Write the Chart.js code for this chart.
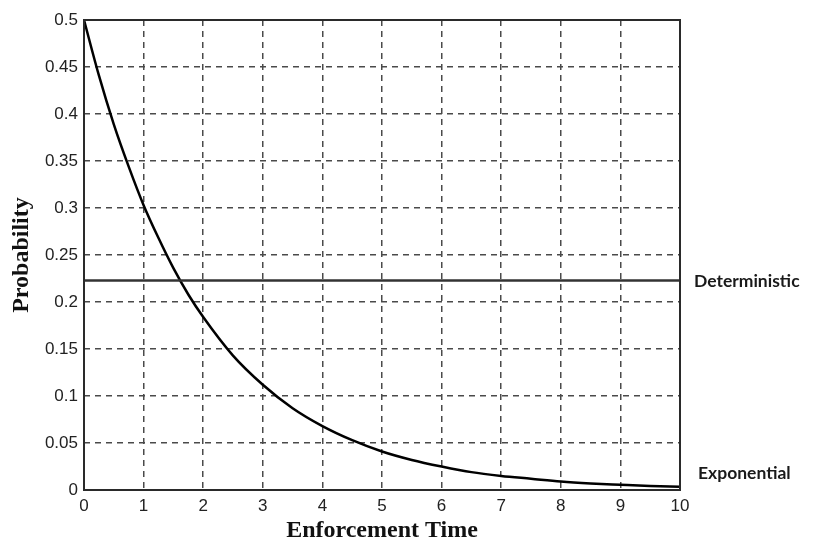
<!DOCTYPE html>
<html>
<head>
<meta charset="utf-8">
<script src="https://cdn.jsdelivr.net/npm/chart.js@4"></script>
<style>
  html, body { margin: 0; padding: 0; background: #fff; }
  #wrap { width: 816px; height: 545px; position: relative; }
</style>
</head>
<body>
<div id="wrap"><canvas id="c" width="816" height="545"></canvas></div>
<script>
// Enforcement time (x) and the probability of the exponential model at each time
const times = [0, 0.25, 0.5, 0.75, 1, 1.25, 1.5, 1.75, 2, 2.5, 3, 3.5, 4, 4.5, 5, 5.5, 6, 6.5, 7, 7.5, 8, 8.5, 9, 9.5, 10];
const exponentialProb = [0.5, 0.441, 0.389, 0.344, 0.303, 0.268, 0.236, 0.208, 0.184, 0.143, 0.112, 0.087, 0.068, 0.053, 0.041, 0.032, 0.025, 0.019, 0.015, 0.012, 0.009, 0.007, 0.0056, 0.0043, 0.0034];
// Constant probability of the deterministic model
const deterministicProb = 0.223;
const xTicks = [0, 1, 2, 3, 4, 5, 6, 7, 8, 9, 10];
const yTicks = [0, 0.05, 0.1, 0.15, 0.2, 0.25, 0.3, 0.35, 0.4, 0.45, 0.5];
const seriesNames = ['Deterministic', 'Exponential'];

const expPoints = times.map((t, i) => ({ x: t, y: exponentialProb[i] }));
const detPoints = [{ x: xTicks[0], y: deterministicProb }, { x: xTicks[xTicks.length - 1], y: deterministicProb }];

// Box around the plot area and series names at the right edge
const frameAndNames = {
  id: 'frameAndNames',
  afterDatasetsDraw(chart) {
    const { ctx, chartArea: a, scales } = chart;
    ctx.save();
    ctx.strokeStyle = '#2a2a2a';
    ctx.lineWidth = 2;
    ctx.strokeRect(a.left, a.top, a.right - a.left, a.bottom - a.top);
    ctx.fillStyle = '#1a1a1a';
    ctx.font = 'bold 17.5px Lato, "Open Sans", sans-serif';
    ctx.textBaseline = 'middle';
    ctx.textAlign = 'left';
    ctx.fillText(seriesNames[0], a.right + 14, scales.y.getPixelForValue(deterministicProb) + 1);
    const lastY = scales.y.getPixelForValue(exponentialProb[exponentialProb.length - 1]);
    ctx.fillText(seriesNames[1], a.right + 18, lastY - 13);
    ctx.restore();
  }
};

const gridStyle = {
  color: '#4a4a4a',
  lineWidth: 1.5,
  drawTicks: false,
  tickLength: 0
};

const tickFont = { family: '"Liberation Sans", Arial, sans-serif', size: 17 };
const titleFont = { family: '"Liberation Serif", "Times New Roman", serif', size: 24, weight: 'bold' };

new Chart(document.getElementById('c'), {
  type: 'scatter',
  data: {
    datasets: [
      {
        label: seriesNames[0],
        data: detPoints,
        showLine: true,
        borderColor: '#333',
        borderWidth: 2.5,
        pointRadius: 0
      },
      {
        label: seriesNames[1],
        data: expPoints,
        showLine: true,
        borderColor: '#000',
        borderWidth: 2.5,
        pointRadius: 0,
        cubicInterpolationMode: 'monotone'
      }
    ]
  },
  options: {
    responsive: false,
    animation: false,
    layout: { padding: { left: 0, right: 136, top: 20, bottom: 0 } },
    plugins: { legend: { display: false }, tooltip: { enabled: false } },
    scales: {
      x: {
        type: 'linear',
        min: xTicks[0],
        max: xTicks[xTicks.length - 1],
        afterBuildTicks(scale) { scale.ticks = xTicks.map(v => ({ value: v })); },
        afterFit(scale) { scale.height = 55; },
        grid: gridStyle,
        border: { display: false, dash: [6, 5] },
        ticks: {
          color: '#222',
          padding: 6,
          font: tickFont,
          callback: v => String(v)
        },
        title: {
          display: true,
          text: 'Enforcement Time',
          color: '#111',
          font: titleFont,
          padding: { top: 0, bottom: 0 }
        }
      },
      y: {
        type: 'linear',
        min: yTicks[0],
        max: yTicks[yTicks.length - 1],
        afterBuildTicks(scale) { scale.ticks = yTicks.map(v => ({ value: v })); },
        afterFit(scale) { scale.width = 84; },
        grid: gridStyle,
        border: { display: false, dash: [6, 5] },
        ticks: {
          color: '#222',
          padding: 6,
          font: tickFont,
          callback: v => String(Number(v.toFixed(2)))
        },
        title: {
          display: true,
          text: 'Probability',
          color: '#111',
          font: titleFont,
          padding: { top: 7, bottom: 0 }
        }
      }
    }
  },
  plugins: [frameAndNames]
});
</script>
</body>
</html>
